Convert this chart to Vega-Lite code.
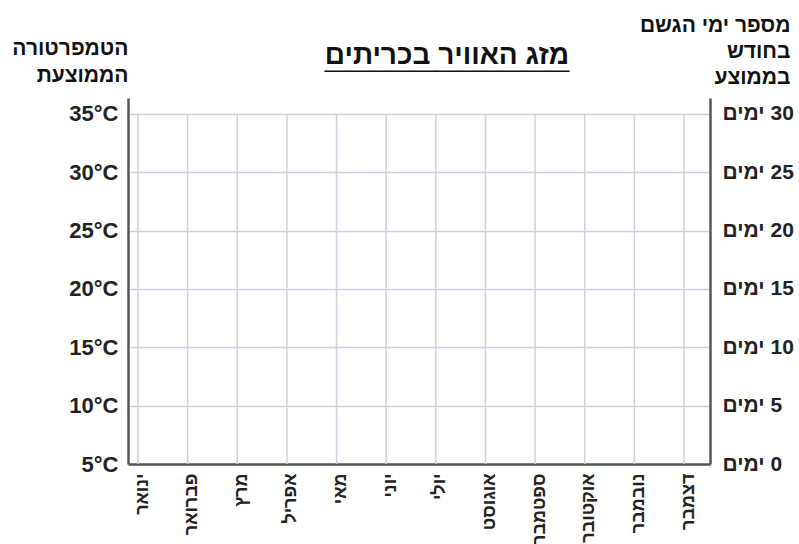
{
  "$schema": "https://vega.github.io/schema/vega-lite/v6.json",
  "width": 582,
  "height": 366,
  "autosize": {"type": "none"},
  "padding": {"left": 128, "top": 98, "right": 89, "bottom": 80},
  "background": "white",
  "config": {"view": {"stroke": null}, "font": "Liberation Sans"},
  "title": {
    "text": "מזג האוויר בכריתים",
    "subtitle": "___________",
    "fontSize": 28,
    "fontWeight": "bold",
    "color": "#111111",
    "subtitleFontSize": 40,
    "subtitleFontWeight": "bold",
    "subtitleColor": "#111111",
    "subtitlePadding": -35,
    "anchor": "middle",
    "dx": 28,
    "offset": -68
  },
  "data": {
    "values": [
      {"month": "ינואר"},
      {"month": "פברואר"},
      {"month": "מרץ"},
      {"month": "אפריל"},
      {"month": "מאי"},
      {"month": "יוני"},
      {"month": "יולי"},
      {"month": "אוגוסט"},
      {"month": "ספטמבר"},
      {"month": "אוקטובר"},
      {"month": "נובמבר"},
      {"month": "דצמבר"}
    ]
  },
  "layer": [
    {
      "mark": {"type": "rule", "color": "#c9d3de", "strokeWidth": 1.5},
      "encoding": {
        "x": {
          "field": "month",
          "type": "ordinal",
          "sort": ["ינואר", "פברואר", "מרץ", "אפריל", "מאי", "יוני", "יולי", "אוגוסט", "ספטמבר", "אוקטובר", "נובמבר", "דצמבר"],
          "scale": {"type": "point", "padding": 0.3626, "align": 0.278},
          "axis": {
            "title": null,
            "labelAngle": -90,
            "labelFontSize": 18,
            "labelFontWeight": "bold",
            "labelColor": "#222222",
            "labelPadding": 9,
            "labelOffset": 4,
            "ticks": false,
            "grid": false,
            "domainColor": "#555555",
            "domainWidth": 2.5
          }
        },
        "y": {
          "datum": 5,
          "type": "quantitative",
          "scale": {"domain": [5, 36.37], "nice": false, "zero": false},
          "axis": {
            "orient": "left",
            "values": [5, 10, 15, 20, 25, 30, 35],
            "labelExpr": "datum.value + '°C'",
            "labelFontSize": 22,
            "labelFontWeight": "bold",
            "labelColor": "#222222",
            "labelPadding": 10,
            "ticks": false,
            "grid": true,
            "gridColor": "#c9d3de",
            "gridWidth": 1.5,
            "domainColor": "#555555",
            "domainWidth": 2.5,
            "title": ["הטמפרטורה", "הממוצעת"],
            "titleAngle": 0,
            "titleAlign": "right",
            "titleBaseline": "top",
            "titleX": 0,
            "titleY": -61,
            "titleFontSize": 21,
            "titleFontWeight": "bold",
            "titleColor": "#111111",
            "titleLineHeight": 27
          }
        },
        "y2": {"datum": 35}
      }
    },
    {
      "mark": {"type": "point", "opacity": 0},
      "encoding": {
        "x": {
          "field": "month",
          "type": "ordinal",
          "sort": ["ינואר", "פברואר", "מרץ", "אפריל", "מאי", "יוני", "יולי", "אוגוסט", "ספטמבר", "אוקטובר", "נובמבר", "דצמבר"]
        },
        "y": {
          "datum": 0,
          "type": "quantitative",
          "scale": {"domain": [0, 31.37], "nice": false, "zero": false},
          "axis": {
            "orient": "right",
            "values": [0, 5, 10, 15, 20, 25, 30],
            "labelExpr": "'ימים\u200e ' + datum.value",
            "labelFontSize": 21,
            "labelFontWeight": "bold",
            "labelColor": "#222222",
            "labelPadding": 12,
            "ticks": false,
            "grid": false,
            "domainColor": "#555555",
            "domainWidth": 2.5,
            "title": ["מספר ימי הגשם", "בחודש", "בממוצע"],
            "titleAngle": 0,
            "titleAlign": "right",
            "titleBaseline": "top",
            "titleX": 80,
            "titleY": -84,
            "titleFontSize": 21,
            "titleFontWeight": "bold",
            "titleColor": "#111111",
            "titleLineHeight": 26
          }
        }
      }
    }
  ],
  "resolve": {"scale": {"y": "independent"}}
}
